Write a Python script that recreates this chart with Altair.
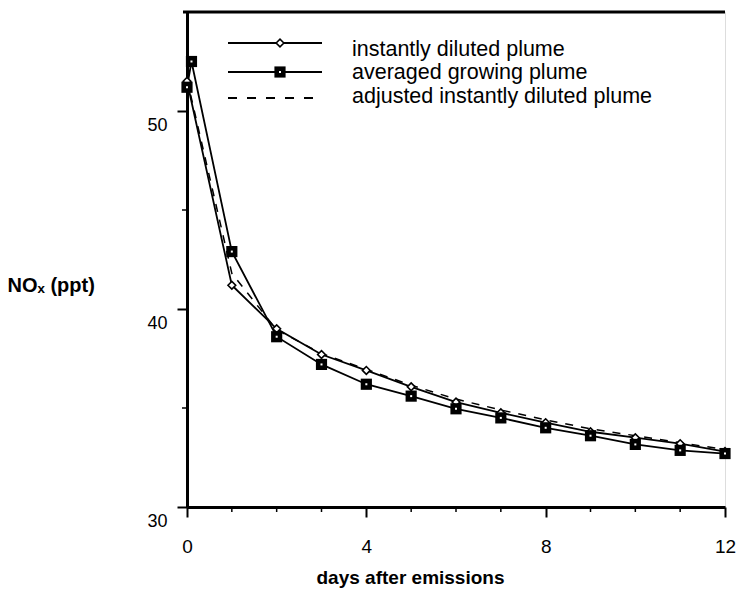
import altair as alt
import pandas as pd

# ---- data ----
days = [0, 1, 2, 3, 4, 5, 6, 7, 8, 9, 10, 11, 12]
instant = [51.5, 41.2, 39.0, 37.7, 36.9, 36.07, 35.3, 34.76, 34.26, 33.8, 33.5, 33.2, 32.8]

grow_days = [0, 0.1, 1, 2, 3, 4, 5, 6, 7, 8, 9, 10, 11, 12]
growing = [51.2, 52.5, 42.9, 38.6, 37.2, 36.2, 35.6, 34.96, 34.5, 34.0, 33.6, 33.16, 32.86, 32.7]

adjusted = [51.6, 41.8, 38.95, 37.75, 36.95, 36.15, 35.45, 34.9, 34.4, 33.95, 33.6, 33.25, 32.9]

x_major = [0, 4, 8, 12]
x_minor = [1, 2, 3, 5, 6, 7, 9, 10, 11]
y_major = [30, 40, 50]
y_minor = [35, 45]

leg_labels = ["instantly diluted plume", "averaged growing plume",
              "adjusted instantly diluted plume"]

FONT = "Liberation Sans"
W, H = 538, 495

df_inst = pd.DataFrame({"day": days, "nox": instant})
df_grow = pd.DataFrame({"day": grow_days, "nox": growing})
df_adj = pd.DataFrame({"day": days, "nox": adjusted})
df_xminor = pd.DataFrame({"day": x_minor})
df_yminor = pd.DataFrame({"nox": y_minor})

x_axis = alt.Axis(values=x_major, tickSize=10, tickWidth=2, domainWidth=3,
                  domainColor="black", tickColor="black", labelColor="black",
                  labelFontSize=19, labelPadding=20, labelFont=FONT, labelFlush=False,
                  title="days after emissions", titleFont=FONT, titleFontSize=19,
                  titleFontWeight="bold", titleColor="black", titlePadding=12,
                  titleX=223, titleAlign="center",
                  grid=False)
y_axis = alt.Axis(values=y_major, tickSize=10, tickWidth=2, domainWidth=3,
                  domainColor="black", tickColor="black", labelColor="black",
                  labelFontSize=18, labelPadding=10, labelOffset=14, labelFont=FONT,
                  labelFlush=False,
                  title="NOₓ (ppt)", titleFont=FONT, titleFontSize=20,
                  titleFontWeight="bold", titleColor="black", titleAngle=0,
                  titleAlign="left", titleBaseline="middle", titleX=-180, titleY=273,
                  grid=False)

x = alt.X("day:Q", scale=alt.Scale(domain=[0, 12], nice=False, zero=False), axis=x_axis)
y = alt.Y("nox:Q", scale=alt.Scale(domain=[30, 55], nice=False, zero=False), axis=y_axis)

LW = 1.8
adj_line = alt.Chart(df_adj).mark_line(color="black", strokeWidth=1.5,
                                       strokeDash=[8, 8]).encode(x=x, y=y)
inst_line = alt.Chart(df_inst).mark_line(color="black", strokeWidth=LW).encode(x=x, y=y)
grow_line = alt.Chart(df_grow).mark_line(color="black", strokeWidth=LW).encode(x=x, y=y)
inst_pts = alt.Chart(df_inst).mark_point(shape="diamond", filled=True, fill="white",
                                         stroke="black", strokeWidth=1.6, size=60,
                                         opacity=1).encode(x=x, y=y)
grow_pts = alt.Chart(df_grow).mark_square(color="black", size=125, opacity=1).encode(x=x, y=y)
grow_dots = alt.Chart(df_grow).mark_square(color="white", size=4, opacity=1).encode(x=x, y=y)

x_minor_ticks = alt.Chart(df_xminor).mark_rule(color="black", strokeWidth=1.5).encode(
    x=x, y=alt.value(H), y2=alt.value(H + 5))
y_minor_ticks = alt.Chart(df_yminor).mark_rule(color="black", strokeWidth=1.5).encode(
    y=y, x=alt.value(-5), x2=alt.value(0))

one = pd.DataFrame({"a": [0]})
top_frame = alt.Chart(one).mark_rule(color="black", strokeWidth=3).encode(
    x=alt.value(-4), x2=alt.value(W), y=alt.value(0))

leg_line_y = [31, 60, 86]
leg_text_y = [44, 67, 91]
legend_layers = []
for i, lab in enumerate(leg_labels):
    dash = [9, 10] if i == 2 else [1, 0]
    legend_layers.append(
        alt.Chart(one).mark_rule(color="black", strokeWidth=LW, strokeDash=dash).encode(
            x=alt.value(41), x2=alt.value(135 if i < 2 else 127), y=alt.value(leg_line_y[i])))
    legend_layers.append(
        alt.Chart(one).mark_text(align="left", baseline="alphabetic", font=FONT,
                                 fontSize=21.5, color="black").encode(
            x=alt.value(165), y=alt.value(leg_text_y[i]), text=alt.value(lab)))
legend_layers.append(
    alt.Chart(one).mark_point(shape="diamond", filled=True, fill="white", stroke="black",
                              strokeWidth=1.6, size=60, opacity=1).encode(
        x=alt.value(93), y=alt.value(leg_line_y[0])))
legend_layers.append(
    alt.Chart(one).mark_square(color="black", size=125, opacity=1).encode(
        x=alt.value(93), y=alt.value(leg_line_y[1])))
legend_layers.append(
    alt.Chart(one).mark_square(color="white", size=4, opacity=1).encode(
        x=alt.value(93), y=alt.value(leg_line_y[1])))

chart = alt.layer(
    adj_line, inst_line, grow_line, inst_pts, grow_pts, grow_dots,
    x_minor_ticks, y_minor_ticks, top_frame, *legend_layers
).properties(
    width=W, height=H,
    autosize=alt.AutoSizeParams(type="none"),
    padding={"left": 187, "top": 12, "right": 15, "bottom": 86},
    background="white",
).configure_view(
    stroke="black", strokeWidth=2
).configure(font=FONT)

chart.save("out.html", embed_options={"renderer": "svg", "actions": False})
